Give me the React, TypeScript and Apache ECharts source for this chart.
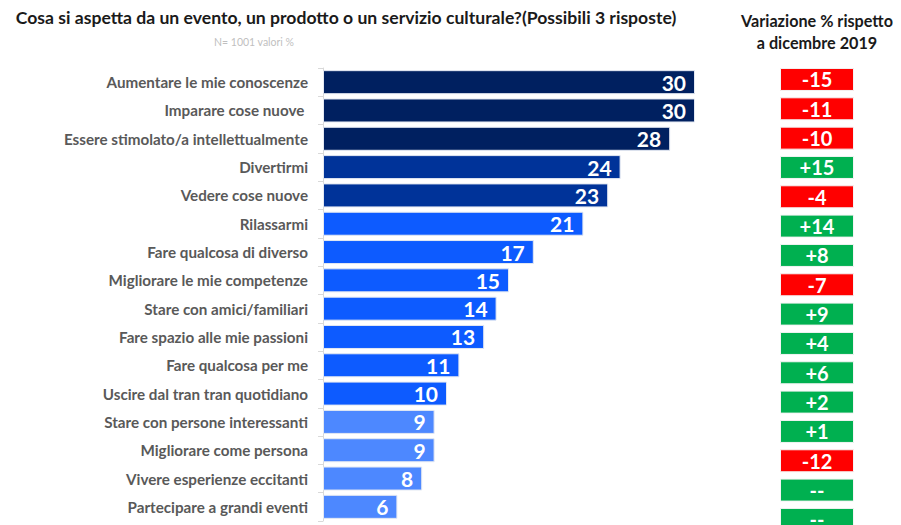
import React, { useEffect, useRef } from "react";
import * as echarts from "echarts";

const categories = [
  "Aumentare le mie conoscenze",
  "Imparare cose nuove ",
  "Essere stimolato/a intellettualmente",
  "Divertirmi",
  "Vedere cose nuove",
  "Rilassarmi",
  "Fare qualcosa di diverso",
  "Migliorare le mie competenze",
  "Stare con amici/familiari",
  "Fare spazio alle mie passioni",
  "Fare qualcosa per me",
  "Uscire dal tran tran quotidiano",
  "Stare con persone interessanti",
  "Migliorare come persona",
  "Vivere esperienze eccitanti",
  "Partecipare a grandi eventi",
];
const values = [30, 30, 28, 24, 23, 21, 17, 15, 14, 13, 11, 10, 9, 9, 8, 6];
const barColors = [
  "#002060", "#002060", "#002060",
  "#003399", "#003399",
  "#0d5bff", "#0d5bff", "#0d5bff", "#0d5bff", "#0d5bff", "#0d5bff", "#0d5bff",
  "#4d88ff", "#4d88ff", "#4d88ff", "#4d88ff",
];
const variations = ["-15", "-11", "-10", "+15", "-4", "+14", "+8", "-7", "+9", "+4", "+6", "+2", "+1", "-12", "--", "--"];
const variationPositive = [false, false, false, true, false, true, true, false, true, true, true, true, true, false, true, true];

const title = "Cosa si aspetta da un evento, un prodotto o un servizio culturale?(Possibili 3 risposte)";
const subtitle = "N= 1001 valori %";
const rightTitle = "Variazione % rispetto\na dicembre 2019";

export default function App() {
  const ref = useRef<HTMLDivElement>(null);
  useEffect(() => {
    if (!ref.current) return;
    const chart = echarts.init(ref.current, null, { renderer: "svg" });
    const font = "Lato, 'Open Sans', sans-serif";
    chart.setOption({
      animation: false,
      textStyle: { fontFamily: font },
      title: [
        {
          text: title,
          left: 338,
          top: 0,
          padding: 0,
          textAlign: "center",
          textStyle: { fontSize: 17.6, fontWeight: "bold", color: "#1a1a1a", fontFamily: font },
        },
        {
          text: subtitle,
          left: 246,
          top: 28,
          padding: 0,
          textAlign: "center",
          textStyle: { fontSize: 10.5, fontWeight: "normal", color: "#bfbfbf", fontFamily: font },
        },
        {
          text: rightTitle,
          left: 809,
          top: 1,
          padding: 0,
          textAlign: "center",
          textStyle: { fontSize: 16.2, fontWeight: "bold", color: "#1a1a1a", fontFamily: font, lineHeight: 22 },
        },
      ],
      grid: [
        { left: 315, top: 60, width: 372, height: 453, containLabel: false },
        { left: 772, top: 56.8, width: 74, height: 469.3, containLabel: false },
      ],
      xAxis: [
        { gridIndex: 0, type: "value", min: 0, max: 30, show: false },
        { gridIndex: 1, type: "value", min: 0, max: 1, show: false },
      ],
      yAxis: [
        {
          gridIndex: 0,
          type: "category",
          data: categories,
          inverse: true,
          axisLine: { show: true, lineStyle: { color: "#d9d9d9", width: 1 } },
          axisTick: { show: true, length: 5, lineStyle: { color: "#d9d9d9" } },
          axisLabel: { margin: 15, fontSize: 15.2, fontWeight: "bold", color: "#595959", fontFamily: font },
        },
        {
          gridIndex: 1,
          type: "category",
          data: variations.map((_, i) => String(i)),
          inverse: true,
          show: false,
        },
      ],
      series: [
        {
          type: "bar",
          xAxisIndex: 0,
          yAxisIndex: 0,
          barWidth: 24,
          data: values.map((v, i) => ({
            value: v,
            itemStyle: { color: barColors[i], borderColor: "#e3e8f2", borderWidth: 1 },
          })),
          label: {
            show: true,
            position: "insideRight",
            distance: 9,
            color: "#ffffff",
            fontSize: 21,
            fontWeight: "bold",
            fontFamily: font,
          },
        },
        {
          type: "bar",
          xAxisIndex: 1,
          yAxisIndex: 1,
          barWidth: 23,
          data: variations.map((t, i) => ({
            value: 1,
            itemStyle: {
              color: variationPositive[i] ? "#00b050" : "#ff0000",
              borderColor: "#f4f4f4",
              borderWidth: 1,
            },
            label: { formatter: t },
          })),
          label: {
            show: true,
            position: "inside",
            color: "#ffffff",
            fontSize: 20,
            fontWeight: "bold",
            fontFamily: font,
          },
        },
      ],
    });
    return () => chart.dispose();
  }, []);
  return (
    <div style={{ width: 893, height: 517, overflow: "hidden" }}>
      <div ref={ref} style={{ width: 893, height: 545 }} />
    </div>
  );
}
